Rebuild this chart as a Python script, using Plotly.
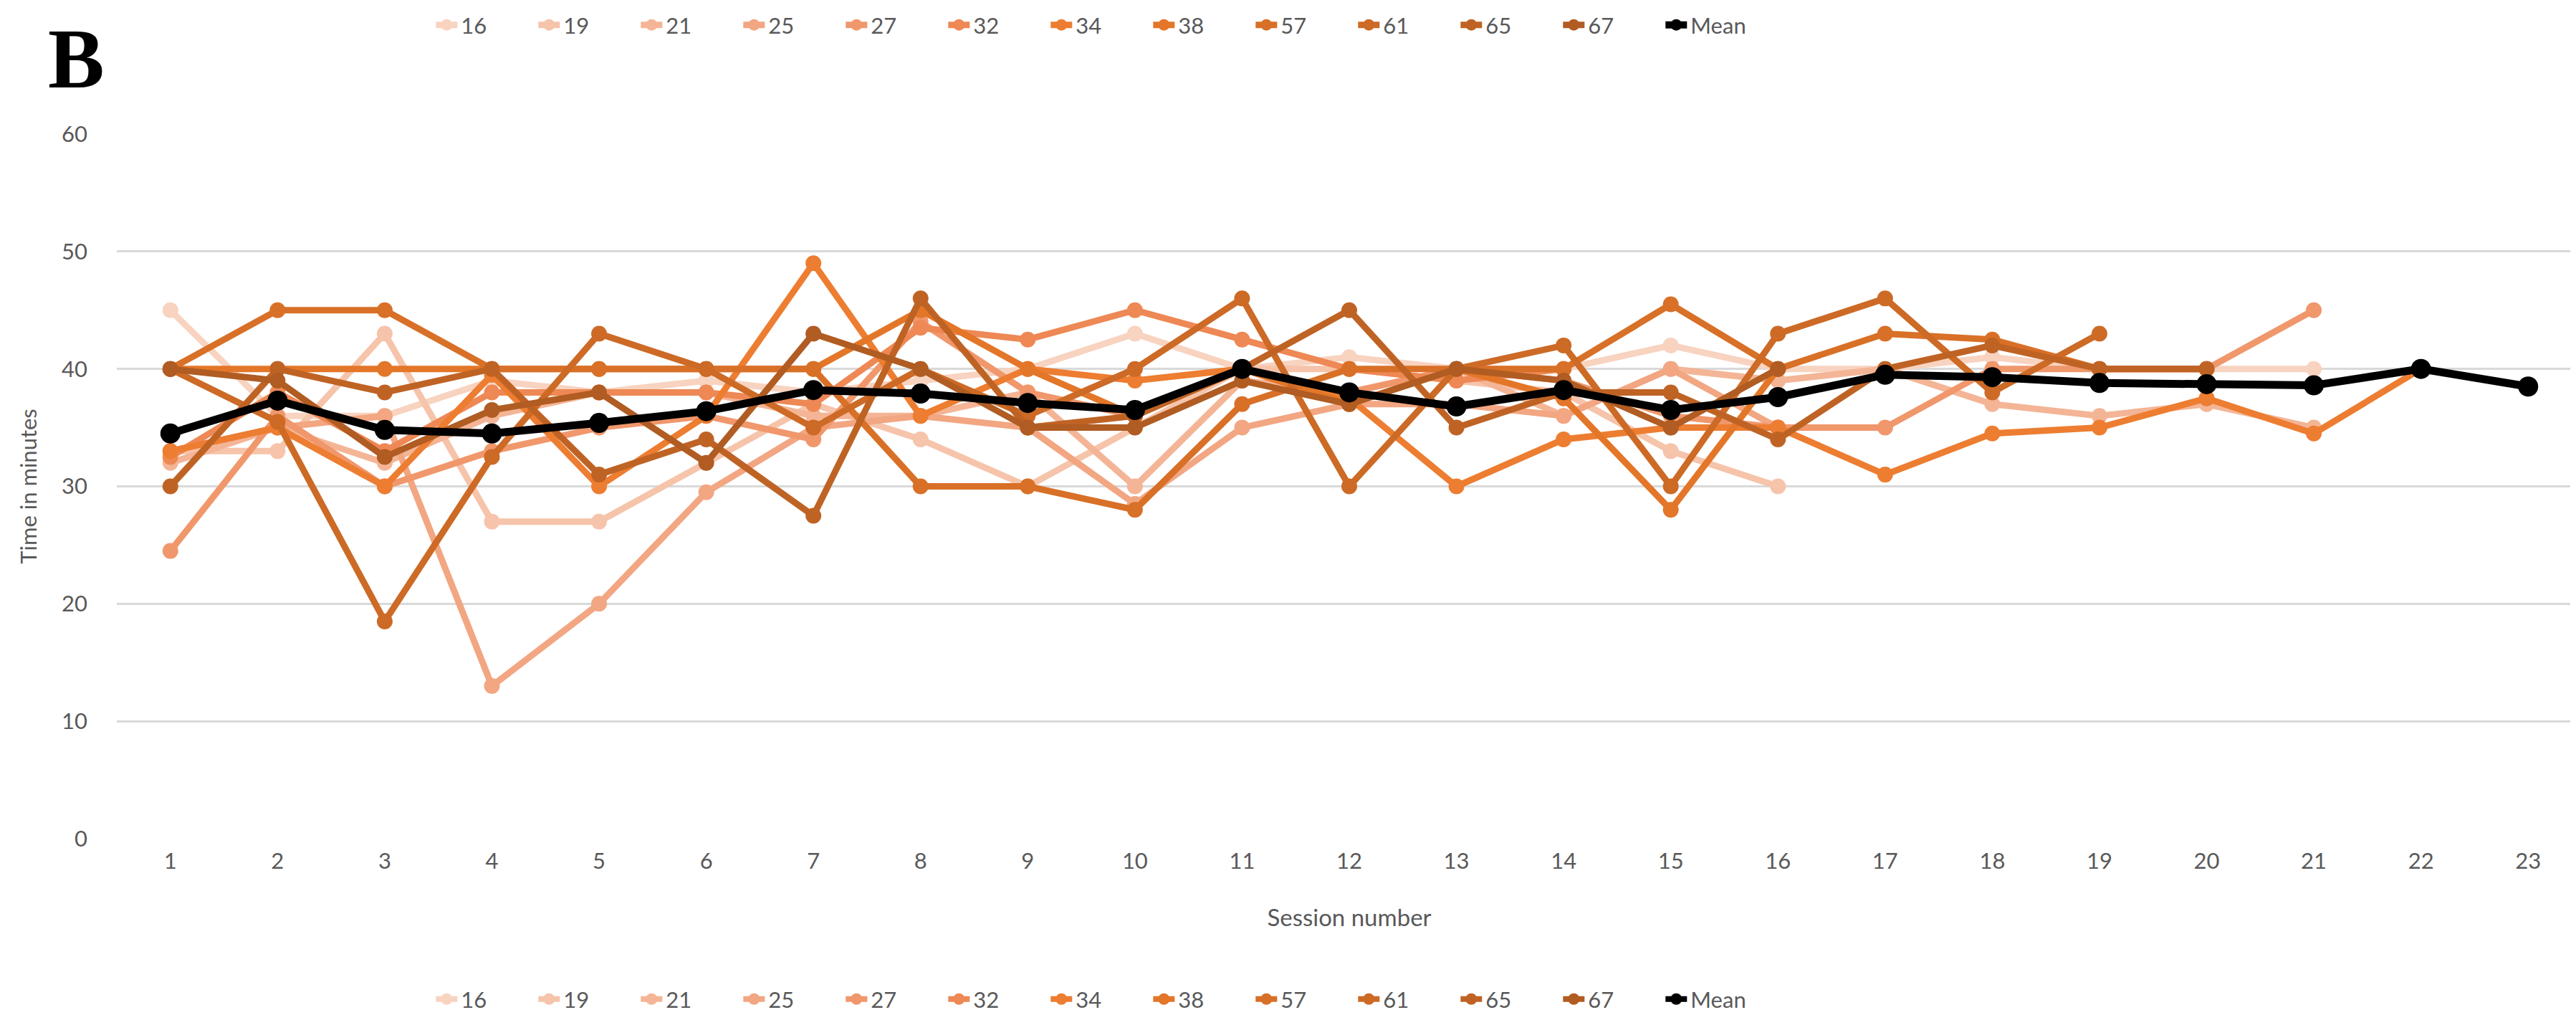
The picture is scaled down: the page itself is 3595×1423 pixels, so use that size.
import plotly.graph_objects as go

sessions = list(range(1, 24))
N = None

series_names = ["16", "19", "21", "25", "27", "32", "34", "38", "57", "61", "65", "67"]
series_colors = ["#F8D3C0", "#F6C4AA", "#F4B596", "#F2A682", "#F0976C", "#EE8855",
                 "#ED7D31", "#E37628", "#D87027", "#CC6A26", "#BF6325", "#B05C22"]

s16 = [45, 36, 36, 39, 38, 39, 38, 39, 40, 43, 40, 41, 40, 40, 42, 40, 40, 41, 40, 40, 40, N, N]
s19 = [33, 33, 43, 27, 27, 32, 37, 34, 30, 35, 40, 40, 39, 38, 33, 30, N, N, N, N, N, N, N]
s21 = [32, 35, 32, 36, 38, 38, 36, 36, 38, 30, 39, 38, 40, 36, 40, 39, 40, 37, 36, 37, 35, N, N]
s25 = [33, 35, 36, 13, 20, 29.5, 35, 36, 35, 28.5, 35, 37, 37, 36, 40, 35, N, N, N, N, N, N, N]
s27 = [24.5, 36, 30, 33, 35, 36, 34, 44, 38, 36, 40, 38, 40, 39, 36, 35, 35, 40, 40, 40, 45, N, N]
s32 = [32.5, 38, 33, 38, 38, 38, 37, 43.5, 42.5, 45, 42.5, 40, 39, 40, N, N, N, N, N, N, N, N, N]
s34 = [33, 35, 30, 39.5, 30, 36, 49, 36, 40, 39, 40, 37.5, 30, 34, 35, 35, 31, 34.5, 35, 37.5, 34.5, 40, 38.5]
s38 = [40, 40, 40, 40, 40, 40, 40, 45, 40, 36, 40, 37, 40, 37.5, 28, 40, N, N, N, N, N, N, N]
s57 = [40, 45, 45, 40, 40, 40, 40, 30, 30, 28, 37, 40, 40, 40, 45.5, 40, 43, 42.5, 40, 40, N, N, N]
s61 = [40, 35.5, 18.5, 32.5, 43, 40, 35, 40, 36, 40, 46, 30, 40, 42, 30, 43, 46, 38, 43, N, N, N, N]
s65 = [30, 40, 38, 40, 31, 34, 27.5, 46, 35, 36, 40, 45, 35, 38, 38, 34, 40, 42, 40, 40, N, N, N]
s67 = [40, 39, 32.5, 36.5, 38, 32, 43, 40, 35, 35, 39, 37, 40, 39, 35, 40, N, N, N, N, N, N, N]
mean = [34.5, 37.3, 34.8, 34.5, 35.4, 36.4, 38.2, 37.9, 37.1, 36.5, 40, 38, 36.8, 38.2,
        36.5, 37.6, 39.5, 39.3, 38.8, 38.7, 38.6, 40, 38.5]

series_values = [s16, s19, s21, s25, s27, s32, s34, s38, s57, s61, s65, s67]

FONT = "Lato"
GREY = "#595959"

fig = go.Figure()
for name, color, vals in zip(series_names, series_colors, series_values):
    fig.add_trace(go.Scatter(x=sessions, y=vals, name=name, mode="lines+markers",
                             line=dict(color=color, width=9),
                             marker=dict(color=color, size=22),
                             legend="legend"))
fig.add_trace(go.Scatter(x=sessions, y=mean, name="Mean", mode="lines+markers",
                         line=dict(color="#000000", width=11),
                         marker=dict(color="#000000", size=28),
                         legend="legend"))

# bottom legend copies (legend entries only)
for name, color in zip(series_names, series_colors):
    fig.add_trace(go.Scatter(x=[None], y=[None], name=name, mode="lines+markers",
                             line=dict(color=color, width=8),
                             marker=dict(color=color, size=20),
                             legend="legend2"))
fig.add_trace(go.Scatter(x=[None], y=[None], name="Mean", mode="lines+markers",
                         line=dict(color="#000000", width=8),
                         marker=dict(color="#000000", size=20),
                         legend="legend2"))

legend_common = dict(orientation="h", xanchor="left", x=0.128, yanchor="middle",
                     font=dict(family=FONT, size=31, color=GREY),
                     itemwidth=30, entrywidth=98, entrywidthmode="pixels",
                     bgcolor="rgba(0,0,0,0)", tracegroupgap=0)

fig.update_layout(
    width=3595, height=1423,
    margin=dict(l=155, r=0, t=174, b=261),
    plot_bgcolor="white", paper_bgcolor="white",
    font=dict(family=FONT, color=GREY),
    legend=dict(**legend_common, y=1.155),
    legend2=dict(**legend_common, y=-0.228),
    xaxis=dict(range=[0.5, 23.5], tickmode="array", tickvals=sessions,
               ticktext=[str(s) for s in sessions], showgrid=False, zeroline=False,
               showline=False, ticks="", tickfont=dict(family=FONT, size=31, color=GREY),
               ticklabelstandoff=10,
               title=dict(text="Session number", font=dict(family=FONT, size=33, color=GREY),
                          standoff=50)),
    yaxis=dict(range=[0, 60], tickmode="array", tickvals=[0, 10, 20, 30, 40, 50, 60],
               showgrid=True, gridcolor="#D9D9D9", gridwidth=3, zeroline=False,
               showline=False, ticks="", tickfont=dict(family=FONT, size=31, color=GREY),
               ticklabelstandoff=40,
               title=dict(text="Time in minutes", font=dict(family=FONT, size=31, color=GREY),
                          standoff=25)),
    annotations=[dict(text="<b>B</b>", xref="paper", yref="paper", x=-0.0163, y=1.106,
                      xanchor="center", yanchor="middle", showarrow=False,
                      font=dict(family="Liberation Serif", size=118, color="#000000"))],
)

fig.write_html("out.html")
